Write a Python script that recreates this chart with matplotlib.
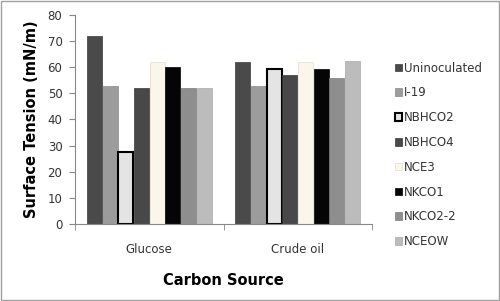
import matplotlib
matplotlib.use("Agg")
import matplotlib.pyplot as plt
import numpy as np
from matplotlib.patches import Rectangle

categories = ["Glucose", "Crude oil"]
series = ["Uninoculated", "I-19", "NBHCO2", "NBHCO4", "NCE3", "NKCO1", "NKCO2-2", "NCEOW"]
values = {
    "Uninoculated": [72, 62],
    "I-19": [53, 53],
    "NBHCO2": [27.5, 59.5],
    "NBHCO4": [52, 57],
    "NCE3": [62, 62],
    "NKCO1": [60, 59.5],
    "NKCO2-2": [52, 56],
    "NCEOW": [52, 62.5],
}
colors = ["#4a4a4a", "#9c9c9c", "#e4e4e4", "#484848", "#faf7ea", "#050505", "#8e8e8e", "#bcbcbc"]
edges = ["#3a3a3a", "#888888", "#000000", "#383838", "#e0ddd0", "#000000", "#7a7a7a", "#a8a8a8"]
lws = [0.5, 0.5, 1.5, 0.5, 0.5, 0.5, 0.5, 0.5]

fig = plt.figure(figsize=(5, 3.01), dpi=100)
fig.patches.append(Rectangle((0.002, 0.003), 0.996, 0.994, transform=fig.transFigure,
                             fill=False, edgecolor="#a0a0a0", lw=1))
ax = fig.add_axes([0.15, 0.256, 0.594, 0.694])

n = len(series)
group_w = 0.845
bw = group_w / n
x = np.arange(len(categories))
for i, s in enumerate(series):
    pos = x - group_w / 2 + bw * (i + 0.5)
    ax.bar(pos, values[s], width=bw * 0.96, color=colors[i], edgecolor=edges[i], linewidth=lws[i], label=s)

ax.set_xlim(-0.5, 1.5)
ax.set_ylim(0, 80)
ax.set_yticks(range(0, 81, 10))
ax.set_xticks(x)
ax.set_xticklabels(categories)
ax.set_xticks([-0.5, 0.5, 1.5], minor=True)
ax.tick_params(axis="x", which="major", length=0, pad=14, labelsize=8.5, labelcolor="#333333")
ax.tick_params(axis="x", which="minor", length=4, direction="out", color="#888888")
ax.tick_params(axis="y", length=4, color="#888888", labelsize=8.5, labelcolor="#333333", pad=5)
for sp in ["top", "right"]:
    ax.spines[sp].set_visible(False)
for sp in ["left", "bottom"]:
    ax.spines[sp].set_color("#888888")
ax.set_ylabel("Surface Tension (mN/m)", fontsize=10.5, fontweight="bold", labelpad=6)
ax.set_xlabel("Carbon Source", fontsize=10.5, fontweight="bold", labelpad=12)

leg = ax.legend(loc="upper left", bbox_to_anchor=(1.06, 0.80), frameon=False, fontsize=8.5,
                handlelength=0.6, handleheight=0.6, handletextpad=0.2, labelspacing=1.0,
                labelcolor="#333333", borderaxespad=0)
plt.savefig("out.png", dpi=100)
